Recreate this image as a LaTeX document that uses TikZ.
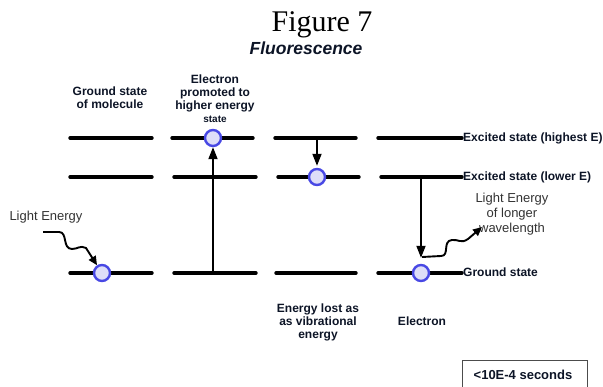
\documentclass[tikz,border=0pt]{standalone}
\usepackage{fontspec}
\setmainfont{Liberation Serif}
\newfontfamily\arialfont{Liberation Sans}
\usetikzlibrary{arrows.meta}
\definecolor{ringblue}{RGB}{72,72,228}
\definecolor{ringfill}{RGB}{222,222,248}
\definecolor{labelink}{RGB}{12,20,38}

\begin{document}
\begin{tikzpicture}[x=1pt, y=-1pt,
  level/.style={line width=3.4pt, line cap=round},
  elec/.style={circle, draw=ringblue, line width=2.4pt, fill=ringfill, minimum size=16pt, inner sep=0pt},
  tag/.style={font=\arialfont\bfseries\fontsize{12}{13}\selectfont, text=labelink, align=center, inner sep=0pt},
  note/.style={font=\arialfont\fontsize{13}{15}\selectfont, text=black!80, align=center, inner sep=0pt},
  jump/.style={-{Triangle[length=12pt,width=9pt]}, line width=1.8pt},
  photon/.style={-{Triangle[length=9pt,width=8pt]}, line width=1.9pt}]
\clip (0,0) rectangle (603,387);

% Titles
\node[inner sep=0pt, anchor=base, font=\fontsize{30}{30}\selectfont] (fig) at (322,32) {Figure 7};
\node[inner sep=0pt, anchor=base, font=\arialfont\bfseries\itshape\fontsize{17.5}{17.5}\selectfont, text=labelink] (ttl) at (306,55) {Fluorescence};

% Energy levels
\draw[level] (70,138) -- (152,138);  \draw[level] (70,177) -- (152,177);  \draw[level] (70,273) -- (152,273);
\draw[level] (172,138) -- (253,138); \draw[level] (174,177) -- (256,177); \draw[level] (174,273) -- (256,273);
\draw[level] (275,138) -- (356,138); \draw[level] (278,177) -- (359,177); \draw[level] (276,273) -- (356,273);
\draw[level] (378,138) -- (462,138); \draw[level] (381,177) -- (462,177); \draw[level] (378,273) -- (462,273);

% Column headings
\node[tag] (hd1) at (110,98) {Ground state\\of molecule};
\node[tag] (hd2) at (215,99) {Electron\\promoted to\\higher energy\\{\fontsize{10}{11}\selectfont state}};
\node[tag] (ft3) at (318,322) {Energy lost as\\as vibrational\\energy};
\node[tag] (ft4) at (422,321) {Electron};

% Level labels
\node[tag, anchor=base west] (lblhi) at (463,141.5) {Excited state (highest E)};
\node[tag, anchor=base west] (lbllo) at (463,180.5) {Excited state (lower E)};
\node[tag, anchor=base west] (lblgs) at (463,276.5) {Ground state};

% Electrons
\node[elec] (e1) at (102,273) {};
\node[elec] (e2) at (213,138) {};
\node[elec] (e3) at (317,177) {};
\node[elec] (e4) at (421,273) {};

% Transitions
\coordinate (g2) at (213,273);
\coordinate (h3) at (317,138);
\coordinate (m4) at (421,177);
\draw[jump] (g2) -- (e2);
\draw[jump, shorten >=2pt] (h3) -- (e3);
\draw[jump, shorten >=6pt] (m4) -- (e4);

% Light in and out
\node[note, anchor=base] (lin) at (46,221) {Light Energy};
\node[note] (lout) at (512,214) {Light Energy\\of longer\\wavelength};
\coordinate (src) at (43,232);
\coordinate (emit) at (422,257);
\coordinate (dst) at (482,227);
\draw[photon] (src) -- (59,232) .. controls (68,232) and (62,249) .. (72,249)
  .. controls (78,249) and (80,245) .. (86,248) -- (e1);
\draw[photon] (emit) -- (441,256) .. controls (450,256) and (442,241) .. (452,240)
  .. controls (458,239) and (461,244) .. (468,239) -- (dst);

% Time scale
\node[draw=black!70, line width=0.8pt, minimum width=125pt, minimum height=45pt, anchor=north west, inner sep=0pt] (tbox) at (462,360) {};
\node[tag, anchor=base, font=\arialfont\bfseries\fontsize{13}{13}\selectfont] (tval) at (523,380) {<10E-4 seconds};
\end{tikzpicture}
\end{document}
